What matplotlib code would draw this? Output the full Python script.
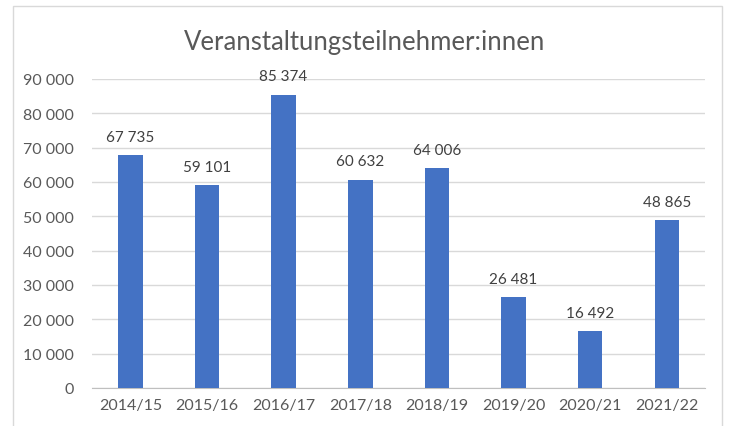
import matplotlib.pyplot as plt
from matplotlib.patches import Rectangle
import numpy as np

plt.rcParams['font.family'] = ['Lato', 'DejaVu Sans']

# Data
seasons = ['2014/15', '2015/16', '2016/17', '2017/18', '2018/19', '2019/20', '2020/21', '2021/22']
participants = [67735, 59101, 85374, 60632, 64006, 26481, 16492, 48865]
y_ticks = [0, 10000, 20000, 30000, 40000, 50000, 60000, 70000, 80000, 90000]


def fmt(v):
    return f'{v:,}'.replace(',', ' ')


fig = plt.figure(figsize=(7.3, 4.27), dpi=100)
ax = fig.add_axes([0.126, 0.089, 0.840, 0.724])

# Chart border
fig.patches.append(Rectangle((0.018, -0.01), 0.971, 0.994, transform=fig.transFigure,
                             fill=False, edgecolor='#D9D9D9', linewidth=1))

x = np.arange(len(seasons))
bars = ax.bar(x, participants, width=0.32, color='#4472C4', zorder=3)

for xi, v in zip(x, participants):
    ax.text(xi, v + 3300, fmt(v), ha='center', va='bottom', fontsize=11, color='#404040')

ax.set_xlim(-0.5, len(seasons) - 0.5)
ax.set_ylim(0, 90000)
ax.set_yticks(y_ticks)
ax.set_yticklabels([fmt(t) for t in y_ticks], fontsize=11.5, color='#595959')
ax.set_xticks(x)
ax.set_xticklabels(seasons, fontsize=11.5, color='#595959')

ax.grid(axis='y', color='#D9D9D9', linewidth=1, zorder=0)
for side in ['top', 'right', 'left']:
    ax.spines[side].set_visible(False)
ax.spines['bottom'].set_color('#BFBFBF')
ax.tick_params(axis='x', length=0, pad=7)
ax.tick_params(axis='y', length=0, pad=13)

fig.text(0.5, 0.90, 'Veranstaltungsteilnehmer:innen', ha='center', va='center',
         fontsize=18.5, color='#595959')

fig.savefig('out.png', dpi=100)
